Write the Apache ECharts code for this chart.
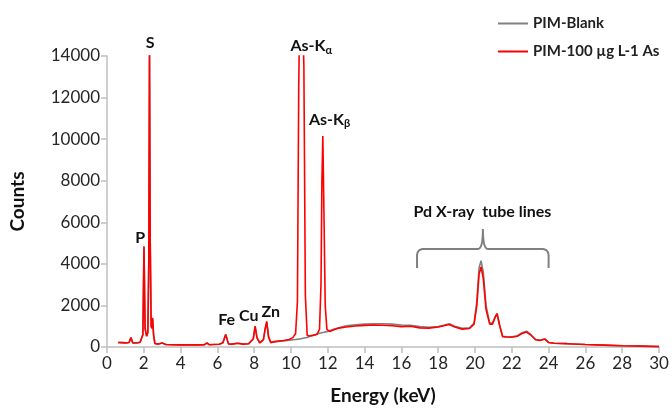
<!DOCTYPE html>
<html>
<head>
<meta charset="utf-8">
<script src="https://cdn.jsdelivr.net/npm/echarts@6/dist/echarts.min.js"></script>
<style>
  html, body { margin: 0; padding: 0; background: #fff; }
  #main { width: 672px; height: 414px; }
</style>
</head>
<body>
<div id="main"></div>
<script>
// energy (keV) sample points
var energy = [
  0.6, 0.8, 1.0, 1.2, 1.3, 1.4, 1.6, 1.8, 1.95, 2.01,
  2.07, 2.15, 2.22, 2.27, 2.31, 2.35, 2.40, 2.44, 2.48, 2.53,
  2.6, 2.8, 3.0, 3.2, 3.5, 4.0, 4.5, 5.0, 5.3, 5.43,
  5.55, 5.8, 6.1, 6.3, 6.45, 6.6, 6.8, 7.1, 7.4, 7.7,
  7.95, 8.05, 8.15, 8.3, 8.5, 8.6, 8.68, 8.78, 8.9, 9.1,
  9.3, 9.6, 9.9, 10.1, 10.25, 10.35, 10.42, 10.48, 10.55, 10.62,
  10.7, 10.78, 10.88, 11.0, 11.2, 11.4, 11.55, 11.63, 11.68, 11.73,
  11.79, 11.86, 11.95, 12.1, 12.3, 12.6, 13.0, 13.5, 14.0, 14.5,
  15.0, 15.5, 16.0, 16.5, 17.0, 17.5, 18.0, 18.3, 18.6, 18.9,
  19.3, 19.7, 19.95, 20.1, 20.22, 20.33, 20.45, 20.6, 20.8, 20.95,
  21.1, 21.2, 21.35, 21.5, 21.7, 22.0, 22.3, 22.55, 22.8, 23.0,
  23.3, 23.55, 23.8, 24.0, 24.3, 25, 26, 27, 28, 29,
  30
];
var blankCounts = [
  220, 210, 200, 220, 440, 200, 190, 230, 600, 4800,
  900, 520, 700, 4000, 14200, 5000, 1000, 900, 1350, 600,
  170, 140, 190, 120, 110, 100, 100, 100, 110, 190,
  110, 120, 130, 200, 600, 150, 140, 180, 140, 160,
  380, 980, 450, 200, 340, 880, 1200, 480, 210, 240,
  270, 290, 330, 350, 360, 370, 380, 390, 400, 420,
  430, 440, 460, 500, 560, 620, 660, 680, 690, 700,
  710, 730, 740, 780, 850, 930, 1020, 1070, 1100, 1120,
  1120, 1100, 1060, 1040, 980, 950, 980, 1040, 1120, 1000,
  900, 920, 1150, 2200, 3800, 4150, 3600, 2000, 1150, 1150,
  1450, 1600, 1000, 520, 500, 490, 540, 680, 760, 620,
  350, 320, 380, 220, 180, 160, 120, 90, 60, 40,
  20
];
var asCounts = [
  220, 210, 200, 220, 460, 200, 190, 230, 600, 4850,
  900, 520, 700, 4000, 14200, 5000, 1000, 900, 1400, 600,
  170, 140, 190, 120, 110, 100, 100, 100, 110, 200,
  110, 120, 130, 200, 600, 150, 140, 180, 140, 160,
  400, 1000, 450, 200, 350, 900, 1230, 500, 220, 260,
  290, 310, 360, 450, 650, 2200, 12500, 16500, 17500, 16500,
  13500, 2500, 560, 530, 560, 600, 850, 3000, 8000, 10150,
  6500, 2000, 850, 750, 820, 910, 960, 1010, 1040, 1060,
  1050, 1020, 980, 1000, 920, 910, 960, 1020, 1080, 960,
  860, 890, 1100, 2000, 3500, 3850, 3300, 1800, 1100, 1100,
  1450, 1600, 1000, 500, 480, 470, 520, 650, 720, 600,
  350, 320, 380, 220, 180, 160, 120, 90, 60, 40,
  20
];
var seriesNames = ['PIM-Blank', 'PIM-100 µg L-1 As'];

function pairs(ys) {
  return energy.map(function (x, i) { return [x, ys[i]]; });
}

var font = 'Lato, "Open Sans", sans-serif';
var axisGray = '#bfbfbf';

var chart = echarts.init(document.getElementById('main'));
chart.setOption({
  animation: false,
  grid: { left: 107, right: 13, top: 56, bottom: 67 },
  legend: {
    orient: 'vertical',
    left: 493,
    top: 11,
    itemWidth: 30,
    itemHeight: 2,
    itemGap: 13,
    icon: 'rect',
    textStyle: { fontFamily: font, fontSize: 15, fontWeight: 'bold', color: '#222' },
    data: seriesNames
  },
  xAxis: {
    type: 'value',
    min: 0, max: 30, interval: 2,
    name: 'Energy (keV)',
    nameLocation: 'middle',
    nameGap: 39,
    nameTextStyle: { fontFamily: font, fontSize: 19, fontWeight: 'bold', color: '#111' },
    axisLine: { lineStyle: { color: axisGray, width: 1.5 } },
    axisTick: { length: 6, lineStyle: { color: axisGray, width: 1.5 } },
    axisLabel: { fontFamily: font, fontSize: 17, color: '#262626', margin: 8 },
    splitLine: { show: false }
  },
  yAxis: {
    type: 'value',
    min: 0, max: 14000, interval: 2000,
    name: 'Counts',
    nameLocation: 'middle',
    nameGap: 80,
    nameRotate: 90,
    nameTextStyle: { fontFamily: font, fontSize: 19, fontWeight: 'bold', color: '#111' },
    axisLine: { show: true, lineStyle: { color: axisGray, width: 1.5 } },
    axisTick: { show: true, length: 6, lineStyle: { color: axisGray, width: 1.5 } },
    axisLabel: { fontFamily: font, fontSize: 17, color: '#262626', margin: 7, formatter: function (v) { return String(v); } },
    splitLine: { show: false }
  },
  series: [
    {
      name: seriesNames[0], type: 'line', showSymbol: false, clip: true,
      color: '#808080', lineStyle: { width: 1.6 },
      data: pairs(blankCounts)
    },
    {
      name: seriesNames[1], type: 'line', showSymbol: false, clip: true,
      color: '#ff0000', lineStyle: { width: 1.6 },
      data: pairs(asCounts)
    }
  ]
});

// peak labels and the Pd bracket, placed in data coordinates
function px(x, y) { return chart.convertToPixel({ gridIndex: 0 }, [x, y]); }
var labelStyle = {
  fontFamily: font, fontSize: 16, fontWeight: 'bold', fill: '#111',
  align: 'center', verticalAlign: 'middle'
};
function label(x, y, text, rich) {
  var p = px(x, y);
  var st = Object.assign({}, labelStyle, { text: text });
  if (rich) st.rich = rich;
  return { type: 'text', x: p[0], y: p[1], style: st, z: 10 };
}
var sub = { s: { fontFamily: font, fontSize: 11, fontWeight: 'bold', fill: '#111', padding: [9, 0, 0, 0] } };

// bracket: quadratic corners sampled into a polyline
function quad(p0, c, p1, out) {
  for (var t = 0; t <= 1.0001; t += 0.125) {
    var a = (1 - t) * (1 - t), b = 2 * (1 - t) * t, d = t * t;
    out.push([a * p0[0] + b * c[0] + d * p1[0], a * p0[1] + b * c[1] + d * p1[1]]);
  }
}
var L = px(16.85, 3800), C = px(20.43, 4715), Ct = px(20.43, 5680), R = px(24.0, 3800);
var yb = C[1], r = 7, pts = [[L[0], L[1]]];
quad([L[0], yb + r], [L[0], yb], [L[0] + r, yb], pts);
quad([C[0] - 5, yb], [C[0], yb], [C[0], Ct[1]], pts);
quad([C[0], Ct[1]], [C[0], yb], [C[0] + 5, yb], pts);
quad([R[0] - r, yb], [R[0], yb], [R[0], yb + r], pts);
pts.push([R[0], R[1]]);

chart.setOption({
  graphic: [
    label(2.35, 14650, 'S'),
    label(11.1, 14500, 'As-K{s|α}', sub),
    label(12.1, 10950, 'As-K{s|β}', sub),
    label(1.8, 5250, 'P'),
    label(6.5, 1300, 'Fe'),
    label(7.7, 1500, 'Cu'),
    label(8.9, 1700, 'Zn'),
    label(20.4, 6500, 'Pd X-ray  tube lines'),
    {
      type: 'polyline', shape: { points: pts },
      style: { fill: null, stroke: '#808080', lineWidth: 2 }, z: 10
    }
  ]
});
</script>
</body>
</html>
